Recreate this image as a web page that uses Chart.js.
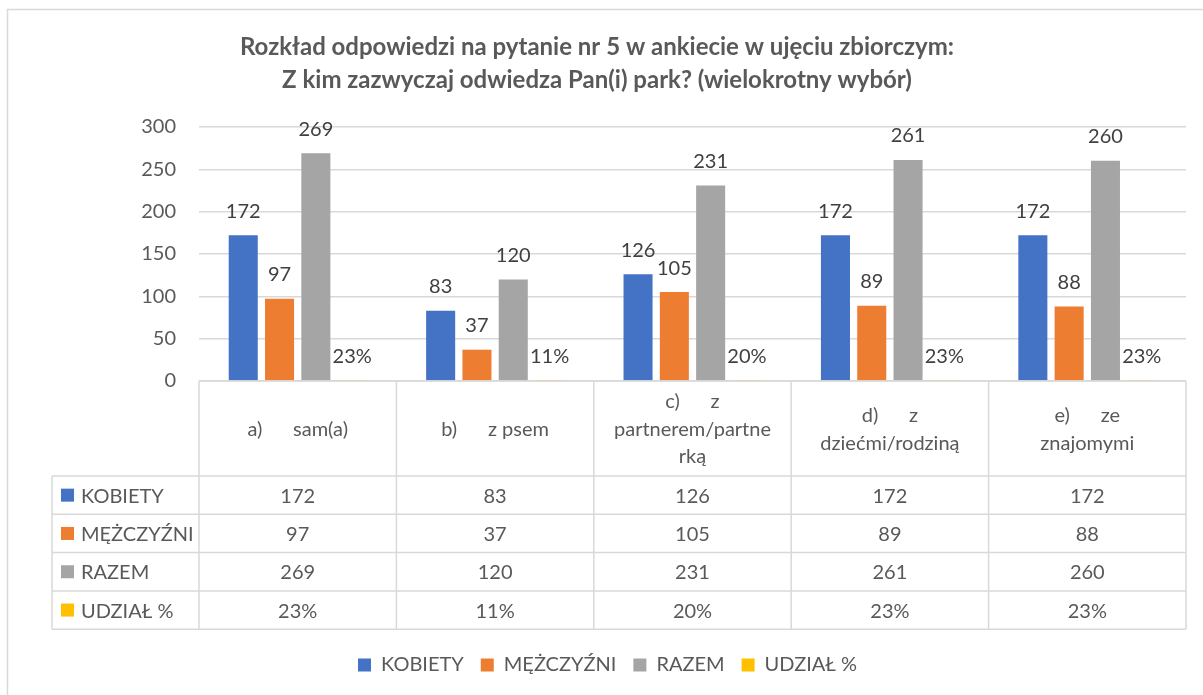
<!DOCTYPE html>
<html><head><meta charset="utf-8">
<script src="https://cdn.jsdelivr.net/npm/chart.js@4.4.1/dist/chart.umd.min.js"></script>
<style>html,body{margin:0;padding:0;background:#fff;} canvas{display:block;}</style>
</head><body>
<canvas id="c" width="1203" height="695"></canvas>
<script>
const titleLines = ['Rozkład odpowiedzi na pytanie nr 5 w ankiecie w ujęciu zbiorczym:', 'Z kim zazwyczaj odwiedza Pan(i) park? (wielokrotny wybór)'];
const categories = [['a)      sam(a)'], ['b)      z psem'], ['c)      z', 'partnerem/partne', 'rką'], ['d)      z', 'dziećmi/rodziną'], ['e)      ze', 'znajomymi']];
const seriesNames = ['KOBIETY', 'MĘŻCZYŹNI', 'RAZEM', 'UDZIAŁ %'];
const kobiety = [172, 83, 126, 172, 172];
const mezczyzni = [97, 37, 105, 89, 88];
const razem = [269, 120, 231, 261, 260];
const udzial = [0.23, 0.11, 0.20, 0.23, 0.23];
const yMin = 0, yMax = 300, yStep = 50;

const colors = ['#4472C4', '#ED7D31', '#A5A5A5', '#FFC000'];
const seriesData = [kobiety, mezczyzni, razem, udzial];
const TXT = '#595959';
const LBL = '#404040';
const GRID = '#D9D9D9';
const FONT = 'Lato, "Open Sans", sans-serif';

function fmt(di, v) {
  return di === 3 ? Math.round(v * 100) + '%' : String(v);
}

const tablePlugin = {
  id: 'tbl',
  afterLayout(chart) {
    if (chart.legend) { chart.legend.left += 10.5; chart.legend.right += 10.5; }
  },
  beforeDraw(chart) {
    const ctx = chart.ctx;
    ctx.save();
    ctx.fillStyle = '#fff';
    ctx.fillRect(0, 0, chart.width, chart.height);
    ctx.strokeStyle = GRID;
    ctx.lineWidth = 1.5;
    ctx.strokeRect(7.5, 9.5, 1400, 900);
    ctx.restore();
  },
  afterDatasetsDraw(chart) {
    const ctx = chart.ctx;
    ctx.save();
    ctx.font = '20px ' + FONT;
    ctx.fillStyle = LBL;
    ctx.textAlign = 'center';
    ctx.textBaseline = 'middle';
    chart.data.datasets.forEach((ds, di) => {
      const meta = chart.getDatasetMeta(di);
      meta.data.forEach((bar, i) => {
        ctx.fillText(fmt(di, ds.data[i]), bar.x, bar.y - 24);
      });
    });
    ctx.restore();
  },
  afterDraw(chart) {
    const ctx = chart.ctx;
    const area = chart.chartArea;
    const xs = chart.scales.x;
    const n = categories.length;
    const cw = (area.right - area.left) / n;
    const top = area.bottom;
    const headH = 95;
    const rowH = 38.3;
    const leftCol = 52;
    const bottom = top + headH + seriesNames.length * rowH;
    ctx.save();
    ctx.strokeStyle = GRID;
    ctx.lineWidth = 1.5;
    const line = (x1, y1, x2, y2) => { ctx.beginPath(); ctx.moveTo(x1, y1); ctx.lineTo(x2, y2); ctx.stroke(); };
    line(area.left, top, area.right, top);
    for (let r = 0; r <= seriesNames.length; r++) {
      const y = top + headH + r * rowH;
      line(leftCol, y, area.right, y);
    }
    for (let c = 0; c <= n; c++) {
      const x = area.left + c * cw;
      line(x, top, x, bottom);
    }
    line(leftCol, top + headH, leftCol, bottom);

    ctx.fillStyle = TXT;
    ctx.font = '20px ' + FONT;
    ctx.textAlign = 'center';
    ctx.textBaseline = 'middle';
    const lh = 27.5;
    categories.forEach((lines, i) => {
      const cx = xs.getPixelForValue(i);
      const cy = top + headH / 2 + 1;
      const y0 = cy - (lines.length - 1) * lh / 2;
      lines.forEach((t, k) => ctx.fillText(t, cx, y0 + k * lh));
    });
    seriesNames.forEach((name, di) => {
      const cy = top + headH + di * rowH + rowH / 2;
      ctx.fillStyle = colors[di];
      ctx.fillRect(61, cy - 6.5, 13, 13);
      ctx.fillStyle = TXT;
      ctx.textAlign = 'left';
      ctx.fillText(name, 81, cy + 1);
      ctx.textAlign = 'center';
      seriesData[di].forEach((v, i) => {
        ctx.fillText(fmt(di, v), xs.getPixelForValue(i), cy + 1);
      });
    });
    ctx.restore();
  }
};

function build() {
  new Chart(document.getElementById('c'), {
    type: 'bar',
    data: {
      labels: categories,
      datasets: seriesNames.map((name, di) => ({
        label: name,
        data: seriesData[di],
        backgroundColor: colors[di],
        borderWidth: 0,
        categoryPercentage: 0.7356,
        barPercentage: 0.8
      }))
    },
    options: {
      responsive: false,
      animation: false,
      devicePixelRatio: 1,
      layout: { padding: { left: 8, right: 17, top: 0, bottom: 10 } },
      plugins: {
        title: {
          display: true,
          text: titleLines,
          color: TXT,
          font: { family: FONT, size: 24, weight: 'bold', lineHeight: 1.375 },
          padding: { top: 30.5, bottom: 30.5 }
        },
        legend: {
          position: 'bottom',
          labels: {
            color: TXT,
            font: { family: FONT, size: 20 },
            boxWidth: 13,
            boxHeight: 13,
            padding: 17
          }
        },
        tooltip: { enabled: false }
      },
      scales: {
        x: {
          grid: { display: false },
          border: { display: false },
          ticks: { display: false },
          afterFit(s) { s.height = 257; }
        },
        y: {
          min: yMin,
          max: yMax,
          ticks: { stepSize: yStep, color: TXT, font: { family: FONT, size: 20 }, padding: 23 },
          grid: { color: GRID, lineWidth: 1.5, drawTicks: false },
          border: { display: false },
          afterFit(s) { s.width = 191; }
        }
      }
    },
    plugins: [tablePlugin]
  });
}
if (document.fonts && document.fonts.load) {
  Promise.all([document.fonts.load('20px Lato'), document.fonts.load('bold 24px Lato')]).then(build, build);
} else { build(); }
</script>
</body></html>
